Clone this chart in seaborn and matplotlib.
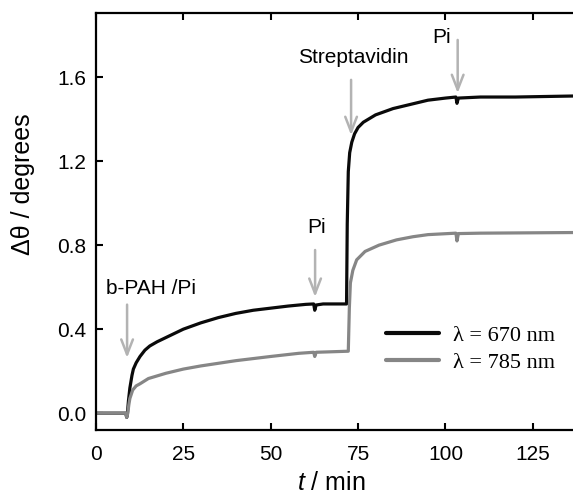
import pandas as pd
import numpy as np
import matplotlib
matplotlib.use('Agg')
import matplotlib.pyplot as plt
import seaborn as sns

# lambda = 670 nm trace
t_670 = [0, 8.5, 8.8, 9.0, 9.3, 9.7, 10.3, 10.7, 11.5, 12.6, 14.0, 15.4, 17.5,
         20, 25, 30, 35, 40, 45, 50, 55, 60, 62.3, 62.6, 63.0, 65, 71.7,
         71.9, 72.2, 72.6, 73.2, 74, 75, 76.5, 80, 85, 90, 95, 100, 103.0,
         103.3, 103.7, 110, 120, 137]
d_670 = [0.0, 0.0, -0.02, 0.0, 0.06, 0.12, 0.18, 0.21, 0.24, 0.27, 0.30, 0.32, 0.34,
         0.36, 0.40, 0.43, 0.455, 0.475, 0.49, 0.50, 0.51, 0.518, 0.52, 0.49, 0.515, 0.52, 0.52,
         0.90, 1.15, 1.24, 1.29, 1.33, 1.36, 1.385, 1.42, 1.45, 1.47, 1.49, 1.50, 1.505,
         1.475, 1.50, 1.505, 1.505, 1.51]

# lambda = 785 nm trace
t_785 = [0, 8.5, 8.8, 9.1, 9.4, 9.7, 10.5, 11.5, 12.6, 15, 20, 25, 30, 40, 50, 58,
         62.3, 62.6, 63.0, 72.2, 72.5, 72.8, 73.5, 74.6, 77, 81, 86, 90.7, 95, 103.0,
         103.3, 103.7, 110, 137]
d_785 = [0.0, 0.0, -0.02, 0.0, 0.04, 0.07, 0.11, 0.13, 0.14, 0.165, 0.19, 0.21, 0.225, 0.25, 0.27, 0.285,
         0.29, 0.27, 0.29, 0.295, 0.50, 0.62, 0.68, 0.73, 0.77, 0.80, 0.825, 0.84, 0.85, 0.857,
         0.82, 0.855, 0.857, 0.86]

labels = ['λ = 670 nm', 'λ = 785 nm']
colors = ['#0a0a0a', '#868686']

# injection markers: text, text position, arrow x, arrow top, arrow tip
inj_text = ['b-PAH /Pi', 'Pi', 'Streptavidin', 'Pi']
inj_tx = [3.0, 63.0, 73.5, 99.0]
inj_ty = [0.595, 0.886, 1.695, 1.79]
inj_ha = ['left', 'center', 'center', 'center']
inj_x = [8.9, 62.7, 73.0, 103.5]
inj_y0 = [0.53, 0.79, 1.60, 1.79]
inj_y1 = [0.25, 0.54, 1.31, 1.51]

df = pd.concat([
    pd.DataFrame({'t': t_670, 'd': d_670, 'trace': labels[0]}),
    pd.DataFrame({'t': t_785, 'd': d_785, 'trace': labels[1]}),
])

sns.set_theme(style='ticks')
plt.rcParams['font.family'] = ['Liberation Sans', 'DejaVu Sans']
plt.rcParams['text.color'] = 'black'
plt.rcParams['axes.labelcolor'] = 'black'
plt.rcParams['mathtext.fontset'] = 'custom'
plt.rcParams['mathtext.it'] = 'Liberation Sans:italic'
plt.rcParams['mathtext.rm'] = 'Liberation Sans'

fig = plt.figure(figsize=(5.73, 5.0), dpi=100)
ax = fig.add_axes([0.1675, 0.14, 0.8325, 0.834])

sns.lineplot(data=df, x='t', y='d', hue='trace', palette=colors, ax=ax,
             linewidth=2.3, sort=False, estimator=None)

for txt, tx, ty, ha, x, y0, y1 in zip(inj_text, inj_tx, inj_ty, inj_ha, inj_x, inj_y0, inj_y1):
    ax.text(tx, ty, txt, ha=ha, va='center', fontsize=15, color='black')
    ax.annotate('', xy=(x, y1), xytext=(x, y0),
                arrowprops=dict(arrowstyle='->,head_length=0.9,head_width=0.35',
                                color='#b3b3b3', lw=1.8))

ax.set_xlim(0, 136.5)
ax.set_ylim(-0.08, 1.905)
ax.set_xticks([0, 25, 50, 75, 100, 125])
ax.set_yticks([0.0, 0.4, 0.8, 1.2, 1.6])
ax.set_yticklabels(['0.0', '0.4', '0.8', '1.2', '1.6'])
ax.tick_params(direction='in', length=5, width=1.5, labelsize=15, top=True,
               colors='black')
ax.tick_params(axis='x', pad=11)
ax.tick_params(axis='y', pad=7)
for s in ['left', 'bottom', 'top']:
    ax.spines[s].set_linewidth(1.6)
    ax.spines[s].set_color('black')
ax.spines['right'].set_visible(False)

ax.set_xlabel('$t$ / min', fontsize=18)
ax.set_ylabel('Δθ / degrees', fontsize=18)
ax.xaxis.set_label_coords(0.493, -0.098)
ax.yaxis.set_label_coords(-0.128, 0.59)

leg = ax.legend(loc='center', bbox_to_anchor=(0.785, 0.194), frameon=False,
                handlelength=2.4, handletextpad=0.6, labelspacing=0.3,
                prop={'family': 'Liberation Serif', 'size': 16})
for line in leg.get_lines():
    line.set_linewidth(3)

plt.savefig('out.png', dpi=100)
